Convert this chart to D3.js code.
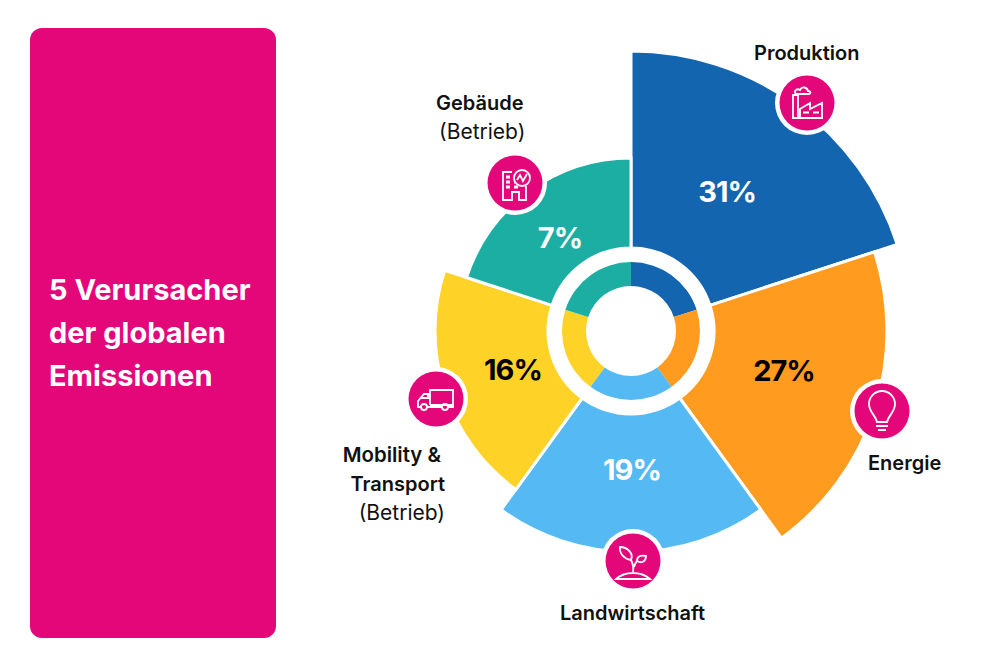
<!DOCTYPE html>
<html lang="de">
<head>
<meta charset="utf-8">
<script src="https://cdn.jsdelivr.net/npm/d3@7"></script>
<style>
  html, body { margin: 0; background: #fff; }
  text { font-family: "Inter", sans-serif; }
</style>
</head>
<body>
<div id="chart"></div>
<script>
const sectors = ["Produktion", "Energie", "Landwirtschaft", "Mobility & Transport", "Gebäude"];
const shares = [31, 27, 19, 16, 7];
const shareLabels = ["31%", "27%", "19%", "16%", "7%"];
const colors = ["#1265ae", "#ff9b1f", "#55b9f3", "#ffd227", "#1caea3"];
const textColors = ["#fff", "#000", "#fff", "#000", "#fff"];
const titleLines = ["5 Verursacher", "der globalen", "Emissionen"];

const width = 1000;
const height = 667;
const pink = "#e4077a";
const cx = 631;
const cy = 331;
const sliceStart = 83;

const svg = d3.select("#chart")
  .append("svg")
  .attr("width", width)
  .attr("height", height)
  .style("display", "block");

// Left panel
svg.append("rect")
  .attr("x", 30).attr("y", 28)
  .attr("width", 246).attr("height", 610)
  .attr("rx", 12)
  .attr("fill", pink);

svg.selectAll(".title")
  .data(titleLines)
  .enter()
  .append("text")
  .attr("class", "title")
  .attr("x", 49)
  .attr("y", (d, i) => 300 + i * 43)
  .attr("fill", "#fff")
  .style("font-size", "29px")
  .style("font-weight", 700)
  .text(d => d);

// Radius is not quite linear in the source, so the scale has a stop per share
const radius = d3.scaleLinear()
  .domain([7, 16, 19, 27, 31])
  .range([173, 196, 221, 256, 280]);

// All sectors get the same angle, only the radius shows the share
const pie = d3.pie().sort(null).value(1);
const slices = pie(shares);

const chart = svg.append("g").attr("transform", `translate(${cx},${cy})`);

chart.selectAll(".slice")
  .data(slices)
  .enter()
  .append("path")
  .attr("class", "slice")
  .attr("fill", (d, i) => colors[i])
  .attr("stroke", "#fff")
  .attr("stroke-width", 3)
  .attr("d", d => d3.arc()
    .innerRadius(sliceStart)
    .outerRadius(radius(d.data))(d));

// Inner ring
const ringArc = d3.arc().innerRadius(45).outerRadius(69);
chart.selectAll(".ring")
  .data(slices)
  .enter()
  .append("path")
  .attr("class", "ring")
  .attr("fill", (d, i) => colors[i])
  .attr("d", ringArc);

// Percent labels, centre of each on the page
const shareSpots = [[727, 192], [784, 371], [632, 470], [513, 370], [560, 238]];

svg.selectAll(".share")
  .data(shareLabels)
  .enter()
  .append("text")
  .attr("class", "share")
  .attr("text-anchor", "middle")
  .attr("dy", "0.36em")
  .attr("x", (d, i) => shareSpots[i][0])
  .attr("y", (d, i) => shareSpots[i][1])
  .attr("fill", (d, i) => textColors[i])
  .style("font-size", "29px")
  .style("font-weight", 700)
  .style("letter-spacing", "-1px")
  .text(d => d);

// Icon badges: same order as sectors
const iconDraw = [
  // factory
  g => {
    g.append("path").attr("d", "M-15,15H15V0L3,6V0L-7,6V15M-14,15V-8H-9V15M-11,-9C-14,-12 -10,-15 -7,-13C-5,-17 0,-16 1,-12C4,-12 4,-9 2,-9Z");
    g.append("path").attr("d", "M-4,9.5H2M6,9.5H12");
  },
  // bulb
  g => {
    g.append("path").attr("d", "M-5,11C-6,5 -13,1 -13,-7A13,13 0 0 1 13,-7C13,1 6,5 5,11ZM-6,15H6M-4,19H4");
  },
  // plant
  g => {
    g.append("path").attr("d", "M-17,18C-8,10 8,10 17,18ZM0,11C1,6 0,3 -2,-1M1,6C2,3 3,1 4,0");
    g.append("path").attr("d", "M-2,-1C-9,-2 -14,-8 -13,-14C-6,-14 1,-8 -2,-1ZM4,0C4,-5 8,-6 13,-5C13,0 9,3 4,0Z");
  },
  // truck
  g => {
    g.append("path").attr("d", "M-6,6V-9H17V6H-6M-6,-5H-12L-18,2V8H-15M-9,8H6M12,8H17V6M-15,-1H-8V-5");
    g.append("circle").attr("cx", -12).attr("cy", 8).attr("r", 3);
    g.append("circle").attr("cx", 9).attr("cy", 8).attr("r", 3);
  },
  // building with meter badge
  g => {
    g.append("path").attr("d", "M-3,-11H-12V17H-3V9H4V17H11V3");
    g.append("path").attr("stroke-width", 3).attr("d", "M-9,-6H-5M-9,-1H-5M-9,4H-5M-1,4H3M-1,-1H0");
    g.append("circle").attr("cx", 7).attr("cy", -5).attr("r", 8);
    g.append("path").attr("d", "M2,-3L5,-8L8,-2L12,-9");
  }
];

// cx, cy of each badge on the page
const badgeSpots = [[807, 103], [882, 411], [633, 561], [436, 399], [515, 183]];

const badges = svg.selectAll(".badge")
  .data(sectors)
  .enter()
  .append("g")
  .attr("class", "badge")
  .attr("transform", (d, i) => `translate(${badgeSpots[i][0]},${badgeSpots[i][1]})`);

badges.append("circle").attr("r", 32).attr("fill", "#fff");
badges.append("circle").attr("r", 27.5).attr("fill", pink);
badges.append("g")
  .attr("fill", "none")
  .attr("stroke", "#fff")
  .attr("stroke-width", 1.8)
  .each(function (d, i) { iconDraw[i](d3.select(this)); });

// Sector labels
const labelRows = [
  { text: "Produktion", x: 754, y: 60, anchor: "start", weight: 600, size: 20 },
  { text: "Energie", x: 868, y: 470, anchor: "start", weight: 600, size: 20 },
  { text: "Landwirtschaft", x: 560, y: 620, anchor: "start", weight: 600, size: 20 },
  { text: "Mobility &", x: 441, y: 462, anchor: "end", weight: 600, size: 20.4 },
  { text: "Transport", x: 445, y: 491, anchor: "end", weight: 600, size: 20 },
  { text: "(Betrieb)", x: 445, y: 520, anchor: "end", weight: 400, size: 21 },
  { text: "Gebäude", x: 436, y: 110, anchor: "start", weight: 600, size: 20 },
  { text: "(Betrieb)", x: 439, y: 139, anchor: "start", weight: 400, size: 21 }
];

svg.selectAll(".label")
  .data(labelRows)
  .enter()
  .append("text")
  .attr("class", "label")
  .attr("x", d => d.x)
  .attr("y", d => d.y)
  .attr("text-anchor", d => d.anchor)
  .attr("fill", "#111")
  .style("font-size", d => d.size + "px")
  .style("font-weight", d => d.weight)
  .text(d => d.text);
</script>
</body>
</html>
